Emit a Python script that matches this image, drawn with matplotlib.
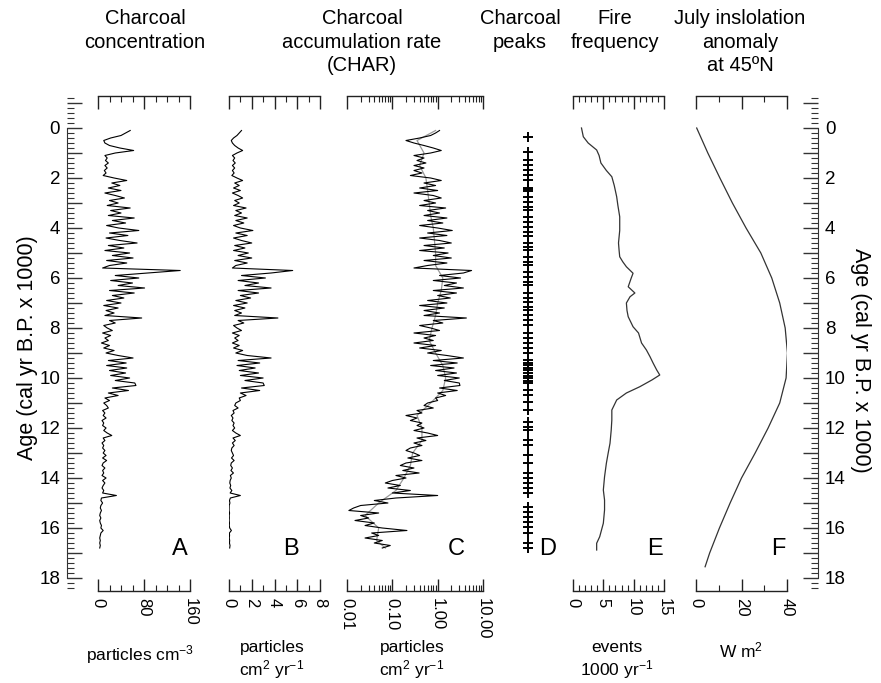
import numpy as np
import matplotlib
matplotlib.use('Agg')
import matplotlib.pyplot as plt
from matplotlib.ticker import FixedLocator, NullFormatter, FuncFormatter, MultipleLocator

plt.rcParams['font.family'] = ['Liberation Sans', 'DejaVu Sans']
plt.rcParams['mathtext.fontset'] = 'custom'
plt.rcParams['mathtext.rm'] = 'Liberation Sans'
plt.rcParams['mathtext.default'] = 'regular'

# charcoal record, one sample every 100 yr (cal yr BP x 1000)
age_raw = np.round(np.arange(1, 169) * 0.1, 1)

# A: charcoal concentration (particles cm-3)
conc = [56, 48, 40, 22, 10, 12, 20, 38, 62, 30,
        12, 16, 13, 18, 12, 16, 11, 14, 9, 28,
        50, 24, 38, 18, 40, 12, 30, 46, 20, 35,
        16, 56, 22, 40, 18, 63, 25, 48, 15, 36,
        71, 20, 52, 14, 38, 68, 18, 45, 12, 55,
        25, 61, 15, 50, 20, 8, 143, 87, 30, 71,
        22, 60, 35, 81, 20, 63, 25, 45, 15, 40,
        10, 35, 14, 28, 12, 76, 20, 30, 10, 16,
        25, 8, 22, 12, 18, 6, 20, 10, 28, 14,
        35, 61, 18, 49, 15, 50, 20, 48, 22, 55,
        30, 64, 66, 25, 53, 18, 35, 12, 20, 10,
        15, 18, 8, 12, 9, 14, 7, 10, 8, 14,
        10, 16, 24, 9, 12, 7, 10, 8, 12, 9,
        14, 8, 15, 9, 7, 12, 8, 10, 7, 14,
        8, 12, 9, 7, 10, 8, 32, 6, 5, 8,
        5, 4, 6, 4, 3, 5, 3, 4, 6, 5,
        9, 5, 4, 3, 4, 3, 4, 3]

# B and C: charcoal accumulation rate (particles cm-2 yr-1)
char = [1.1, 0.9, 0.7, 0.4, 0.2, 0.3, 0.5, 0.8, 1.2, 0.7,
        0.3, 0.5, 0.35, 0.55, 0.3, 0.5, 0.3, 0.45, 0.25, 0.7,
        1.2, 0.5, 0.9, 0.4, 1.0, 0.3, 0.8, 1.2, 0.5, 0.9,
        0.4, 1.5, 0.6, 1.1, 0.5, 1.6, 0.6, 1.3, 0.4, 1.0,
        2.1, 0.6, 1.6, 0.4, 1.1, 2.0, 0.5, 1.4, 0.4, 1.7,
        0.8, 2.0, 0.5, 1.6, 0.6, 0.3, 5.6, 3.7, 1.1, 3.2,
        0.8, 2.6, 1.4, 3.7, 0.8, 2.6, 1.0, 1.9, 0.6, 1.6,
        0.4, 1.4, 0.5, 1.1, 0.5, 4.3, 0.8, 1.3, 0.4, 0.7,
        1.1, 0.3, 0.9, 0.5, 0.8, 0.3, 0.9, 0.4, 1.2, 0.6,
        1.6, 3.7, 0.8, 2.7, 0.7, 2.3, 0.9, 2.6, 1.0, 3.0,
        1.4, 3.0, 3.1, 1.1, 2.7, 1.0, 1.5, 0.9, 1.0, 0.6,
        0.5, 0.8, 0.35, 0.45, 0.2, 0.35, 0.25, 0.45, 0.35, 0.5,
        0.3, 0.6, 1.0, 0.35, 0.55, 0.3, 0.45, 0.25, 0.2, 0.3,
        0.4, 0.22, 0.45, 0.2, 0.15, 0.3, 0.17, 0.39, 0.12, 0.2,
        0.1, 0.07, 0.15, 0.08, 0.25, 0.1, 1.0, 0.12, 0.04, 0.08,
        0.02, 0.014, 0.011, 0.05, 0.02, 0.03, 0.015, 0.04, 0.025, 0.06,
        0.21, 0.035, 0.05, 0.025, 0.06, 0.04, 0.09, 0.06]

# C: background CHAR (grey line)
bg_age = [0.1, 0.5, 1.0, 1.5, 2.0, 2.5, 3.0, 3.5, 4.0, 4.5, 5.0, 5.5, 6.0, 6.5, 7.0, 7.5, 8.0, 8.5,
          9.0, 9.5, 10.0, 10.5, 11.0, 11.5, 12.0, 12.5, 13.0, 13.5, 14.0, 14.5, 15.0, 15.5, 16.0, 16.5, 16.8]
char_bg = [0.9, 0.35, 0.5, 0.4, 0.55, 0.6, 0.65, 0.7, 0.8, 0.85, 0.9, 0.9, 1.3, 1.2, 1.0, 0.9, 0.75, 0.65,
           0.9, 1.3, 1.5, 1.3, 0.7, 0.35, 0.45, 0.45, 0.28, 0.25, 0.18, 0.12, 0.05, 0.025, 0.05, 0.045, 0.07]

# D: charcoal peaks
peak_age = [0.35, 0.95, 1.28, 1.48, 1.68, 1.88, 2.08, 2.38, 2.45, 2.52, 2.75, 2.95, 3.15, 3.28,
            3.55, 3.75, 3.95, 4.15, 4.32, 4.61, 4.75, 4.88, 5.15, 5.35, 5.48, 5.75, 5.95, 6.15,
            6.28, 6.61, 6.81, 6.95, 7.15, 7.28, 7.48, 7.68, 7.88, 8.21, 8.41, 8.61, 8.81, 9.01,
            9.28, 9.4, 9.48, 9.6, 9.68, 9.81, 9.92, 10.01, 10.12, 10.21, 10.48, 10.68, 10.95,
            11.28, 11.75, 11.95, 12.08, 12.48, 12.68, 13.08, 13.41, 13.81, 14.01, 14.21, 14.41,
            14.61, 15.15, 15.35, 15.55, 15.75, 15.95, 16.21, 16.61, 16.81]

# E: fire frequency (events 1000 yr-1)
fire_age = [0.0, 0.35, 0.6, 0.88, 1.1, 1.4, 1.7, 1.95, 2.3, 2.75, 3.1, 3.55, 4.1, 4.6, 4.9, 5.15,
            5.35, 5.55, 5.81, 6.0, 6.35, 6.6, 6.75, 7.0, 7.3, 7.55, 7.95, 8.2, 8.6, 8.88, 9.15,
            9.4, 9.68, 9.88, 10.08, 10.35, 10.6, 10.88, 11.28, 11.68, 12.08, 12.61, 13.0, 13.41,
            13.95, 14.48, 14.88, 15.28, 15.81, 16.35, 16.61, 16.88]
fire_freq = [1.4, 1.7, 2.5, 3.9, 4.3, 4.6, 5.5, 6.4, 6.8, 7.2, 7.4, 7.7, 7.7, 7.5, 7.6, 7.7,
             8.2, 8.8, 9.9, 9.6, 9.1, 10.2, 9.4, 8.8, 8.9, 9.1, 9.9, 10.8, 11.3, 12.1, 12.7,
             13.2, 13.8, 14.3, 13.0, 11.0, 8.8, 7.2, 6.4, 6.4, 6.3, 6.1, 5.8, 5.5,
             5.2, 5.0, 5.2, 5.2, 5.0, 4.4, 3.9, 3.9]

# F: July insolation anomaly at 45N (W m-2)
insol_age = [0, 1, 2, 3, 4, 5, 6, 7, 8, 9, 10, 11, 12, 13, 14, 15, 16, 17, 17.55]
insol = [0.3, 5.2, 10.5, 16.0, 22.0, 28.5, 33.3, 36.8, 39.2, 40.2, 39.6, 36.8, 31.7, 26.0,
         20.0, 15.0, 10.3, 6.0, 4.0]

W, H = 881, 683
TOP, BOT = 96, 591
YLIM = (18.52, -1.28)

fig = plt.figure(figsize=(W / 100, H / 100), dpi=100)


def box(x0, x1):
    return [x0 / W, (H - BOT) / H, (x1 - x0) / W, (BOT - TOP) / H]


def panel(x0, x1, xlim, major, labels, minor, log=False):
    ax = fig.add_axes(box(x0, x1))
    ax.patch.set_visible(False)
    if log:
        ax.set_xscale('log')
    ax.set_xlim(*xlim)
    ax.set_ylim(*YLIM)
    ax.spines['left'].set_visible(False)
    ax.spines['right'].set_visible(False)
    for s in ['top', 'bottom']:
        ax.spines[s].set_linewidth(1.0)
        ax.spines[s].set_color('#222222')
    ax.set_yticks([])
    ax.xaxis.set_major_locator(FixedLocator(major))
    ax.set_xticklabels(labels)
    ax.xaxis.set_minor_locator(FixedLocator(minor))
    ax.xaxis.set_minor_formatter(NullFormatter())
    ax.tick_params(axis='x', which='both', direction='in', top=True, bottom=True,
                   labelsize=12, pad=5, labelrotation=-90, color='#222222')
    ax.tick_params(axis='x', which='major', length=9, width=1)
    ax.tick_params(axis='x', which='minor', length=4.5, width=0.8)
    return ax


# age axes on both sides
frame = fig.add_axes([67 / W, (H - BOT) / H, (818 - 67) / W, (BOT - TOP) / H])
frame.patch.set_visible(False)
frame.set_xlim(0, 1)
frame.set_ylim(*YLIM)
frame.set_xticks([])
frame.spines['top'].set_visible(False)
frame.spines['bottom'].set_visible(False)
for s in ['left', 'right']:
    frame.spines[s].set_bounds(0, 18)
    frame.spines[s].set_color('#333333')
frame.yaxis.set_major_locator(MultipleLocator(1))
frame.yaxis.set_minor_locator(MultipleLocator(0.2))
frame.yaxis.set_major_formatter(FuncFormatter(lambda v, p: '%d' % v if round(v) % 2 == 0 else ''))
frame.tick_params(axis='y', which='both', direction='in', left=True, right=True,
                  labelleft=True, labelright=True, labelsize=13.5, pad=5, color='#333333')
frame.tick_params(axis='y', which='major', length=11, width=1)
frame.tick_params(axis='y', which='minor', length=5, width=0.8)

# A
ax = panel(98, 190, (0, 160), [0, 80, 160], ['0', '80', '160'], [20, 40, 60, 100, 120, 140])
ax.plot(conc, age_raw, color='black', lw=0.8)

# B
ax = panel(229, 320, (0, 8), [0, 2, 4, 6, 8], ['0', '2', '4', '6', '8'], [1, 3, 5, 7])
ax.plot(char, age_raw, color='black', lw=0.8)

# C
minor_log = [m * 10.0 ** e for e in (-2, -1, 0) for m in range(2, 10)]
ax = panel(347, 483, (0.01, 10), [0.01, 0.1, 1, 10], ['0.01', '0.10', '1.00', '10.00'], minor_log, log=True)
ax.plot(char_bg, bg_age, color='#999999', lw=0.9)
ax.plot(char, age_raw, color='black', lw=0.8)

# D
ax = fig.add_axes(box(505, 551))
ax.set_axis_off()
ax.set_xlim(-1, 1)
ax.set_ylim(*YLIM)
ax.plot(np.zeros(len(peak_age)), peak_age, '+', ms=7, mew=1.4, color='black')

# E
ax = panel(573, 664, (0, 15), [0, 5, 10, 15], ['0', '5', '10', '15'],
           [1, 2, 3, 4, 6, 7, 8, 9, 11, 12, 13, 14])
ax.plot(fire_freq, fire_age, color='#333333', lw=0.9)

# F
ax = panel(696, 787, (0, 40), [0, 20, 40], ['0', '20', '40'], [10, 30])
ax.plot(insol, insol_age, color='#333333', lw=0.9)


def ftext(x, y, s, **kw):
    fig.text(x / W, 1 - y / H, s, **kw)


# titles
title_kw = dict(ha='center', va='top', fontsize=14.5, linespacing=1.3)
ftext(145, 9, 'Charcoal\nconcentration', **title_kw)
ftext(362, 9, 'Charcoal\naccumulation rate\n(CHAR)', **title_kw)
ftext(520, 9, 'Charcoal\npeaks', **title_kw)
ftext(615, 9, 'Fire\nfrequency', **title_kw)
ftext(740, 9, 'July inslolation\nanomaly\nat 45\u00baN', **title_kw)

# units
unit_kw = dict(ha='center', va='top', fontsize=12.5, linespacing=1.2)
ftext(140, 643, r'particles cm$^{-3}$', **unit_kw)
ftext(272, 640, 'particles\n' + r'cm$^{2}$ yr$^{-1}$', **unit_kw)
ftext(412, 640, 'particles\n' + r'cm$^{2}$ yr$^{-1}$', **unit_kw)
ftext(617, 640, 'events\n' + r'1000 yr$^{-1}$', **unit_kw)
ftext(741, 640, r'W m$^{2}$', **unit_kw)

# panel letters
letter_kw = dict(ha='center', va='center', fontsize=17)
for x, s in [(180, 'A'), (291, 'B'), (456, 'C'), (548, 'D'), (655, 'E'), (778, 'F')]:
    ftext(x, 549, s, **letter_kw)

# age labels
ftext(28, 348, 'Age (cal yr B.P. x 1000)', ha='center', va='center', rotation=90, fontsize=15.5)
ftext(860, 360, 'Age (cal yr B.P. x 1000)', ha='center', va='center', rotation=270, fontsize=15.5)

fig.savefig('out.png', dpi=100)
